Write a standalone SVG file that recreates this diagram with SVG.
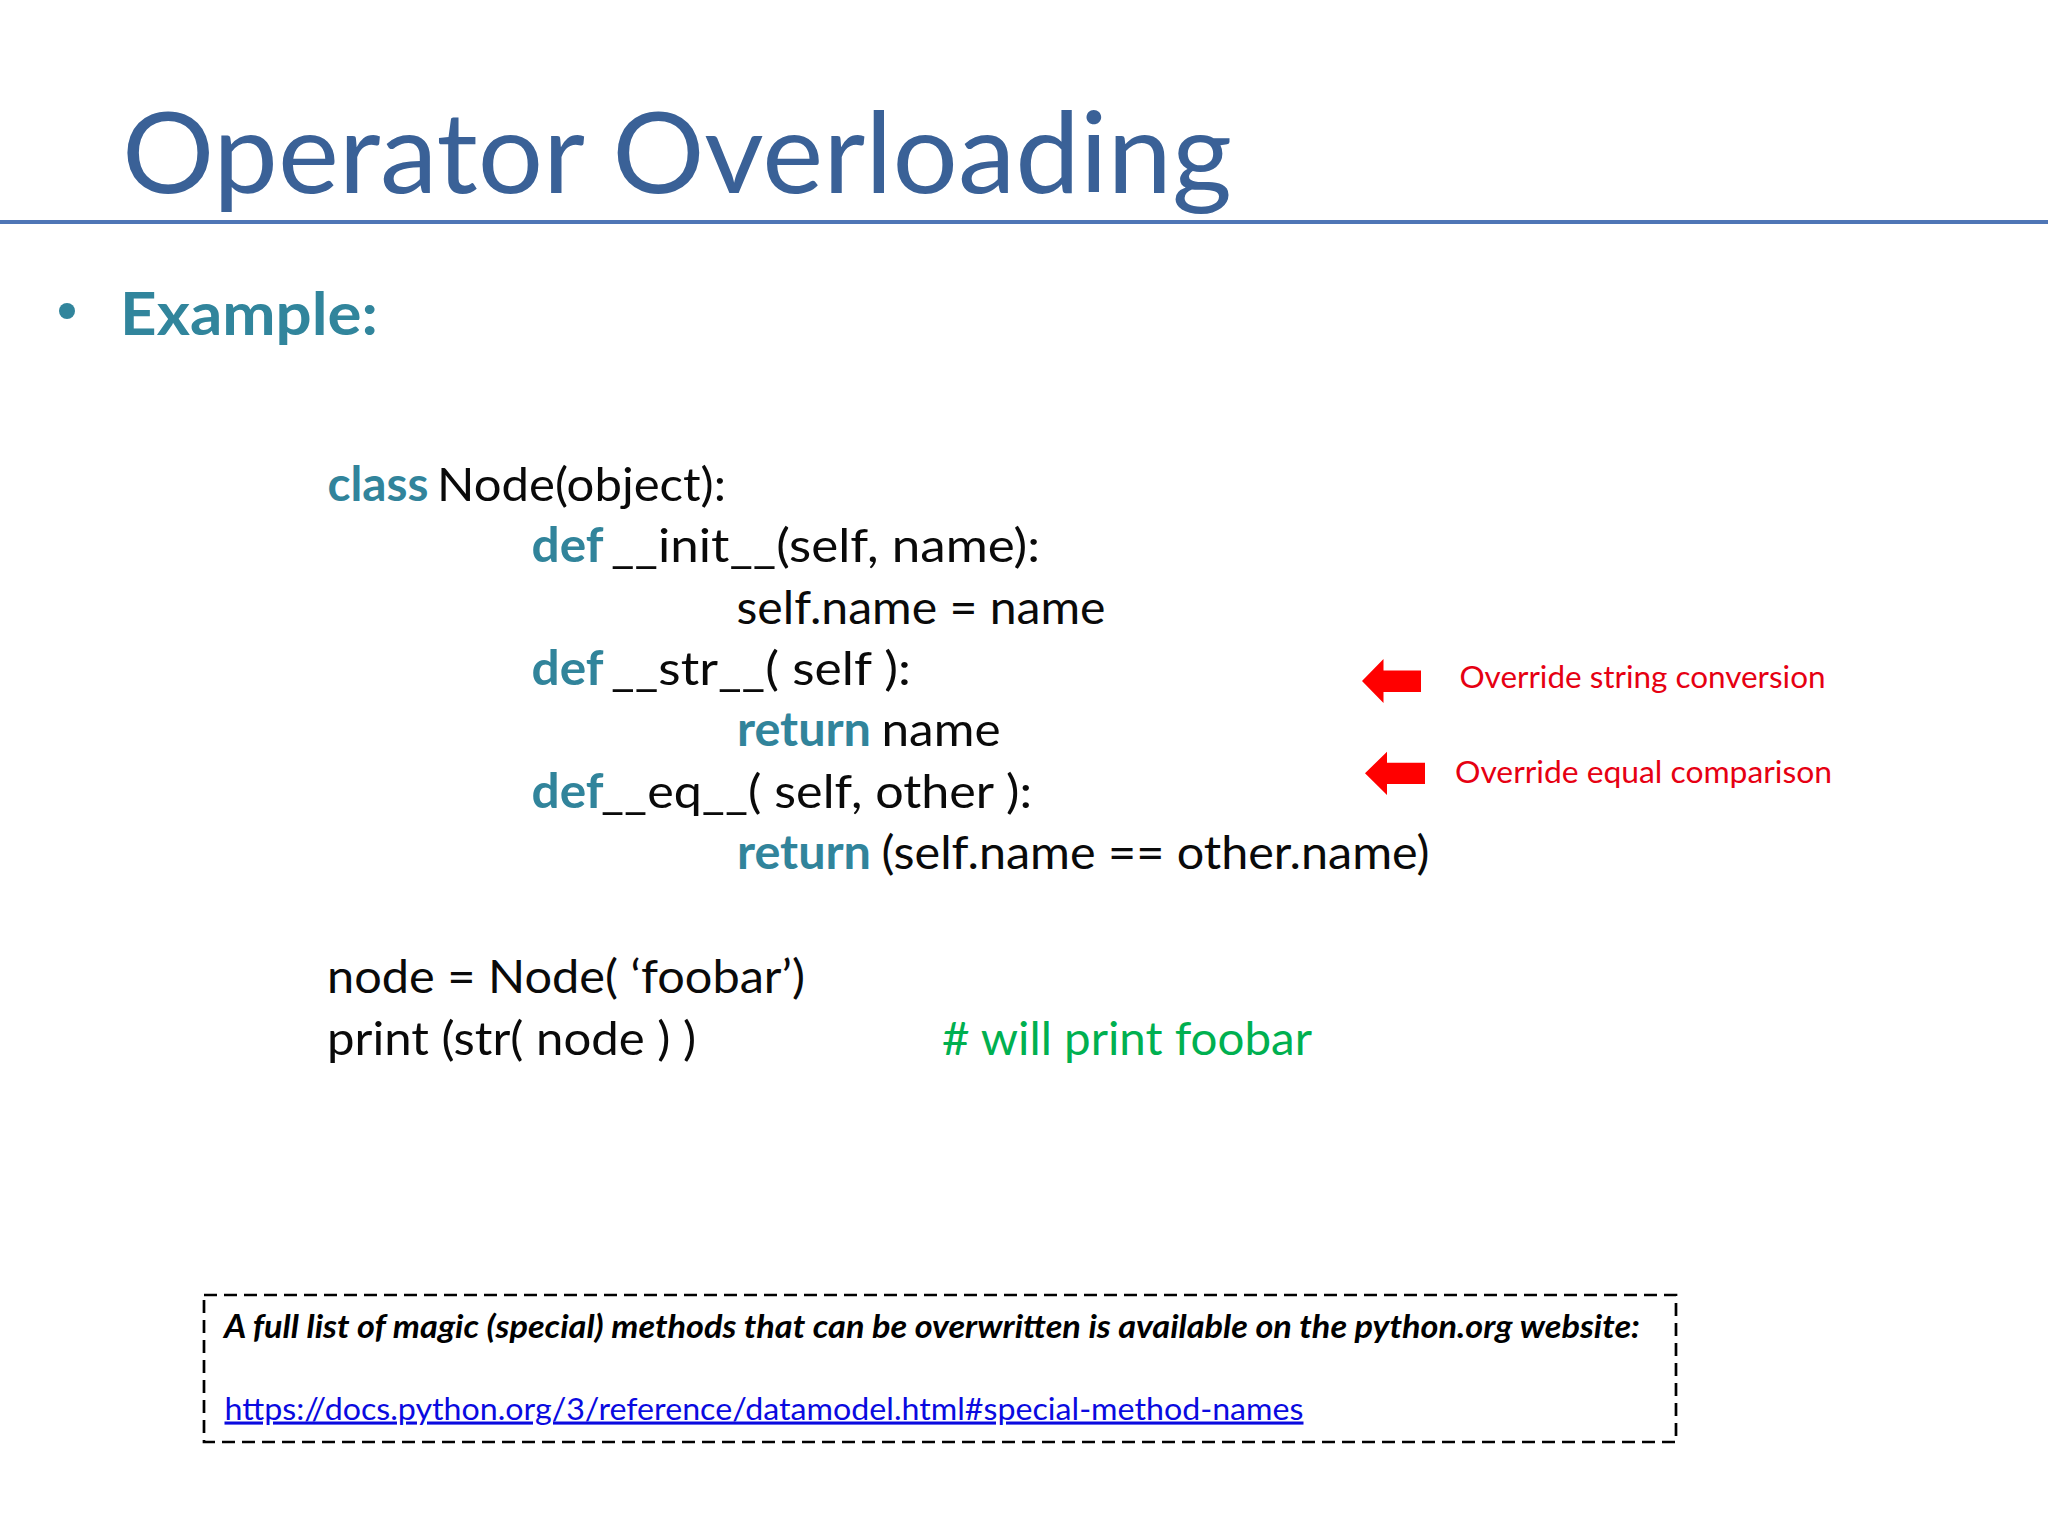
<svg xmlns="http://www.w3.org/2000/svg" width="2048" height="1536" viewBox="0 0 2048 1536">
<style>
text { font-family: Lato, "Open Sans", "Liberation Sans", sans-serif; }
.title { font-size: 112px; fill: #3A6197; }
.bullet { font-size: 60px; font-weight: bold; fill: #31859C; }
.code { font-size: 47px; fill: #0A0A0A; }
.kw { font-size: 47px; font-weight: bold; fill: #31849B; }
.cmt { font-size: 47px; fill: #00B050; }
.note { font-size: 30px; fill: #E60012; }
.arrow { fill: #FF0000; }
.info { font-size: 33px; font-weight: bold; font-style: italic; fill: #000000; }
.link { font-size: 31px; fill: #0A0AE0; }
</style>
<rect x="0" y="0" width="2048" height="1536" fill="#FFFFFF"/>

<g id="header">
  <text class="title" x="122" y="193" textLength="1110" lengthAdjust="spacingAndGlyphs">Operator Overloading</text>
  <line x1="0" y1="222" x2="2048" y2="222" stroke="#4F76B6" stroke-width="4"/>
</g>

<g id="bullet-example">
  <circle cx="67" cy="311" r="8" fill="#31859C"/>
  <text class="bullet" x="120" y="335" textLength="258" lengthAdjust="spacingAndGlyphs">Example:</text>
</g>

<g id="code">
  <g id="line-class">
    <text class="kw" x="327.5" y="501" textLength="101" lengthAdjust="spacingAndGlyphs">class</text>
    <text class="code" x="437" y="501" textLength="289" lengthAdjust="spacingAndGlyphs">Node(object):</text>
  </g>
  <g id="line-init">
    <text class="kw" x="531.5" y="562" textLength="72" lengthAdjust="spacingAndGlyphs">def</text>
    <text class="code" x="611" y="562" textLength="429" lengthAdjust="spacingAndGlyphs">__init__(self, name):</text>
  </g>
  <g id="line-assign">
    <text class="code" x="736.5" y="623.5" textLength="369" lengthAdjust="spacingAndGlyphs">self.name = name</text>
  </g>
  <g id="line-str">
    <text class="kw" x="531.5" y="685" textLength="72" lengthAdjust="spacingAndGlyphs">def</text>
    <text class="code" x="611" y="685" textLength="300" lengthAdjust="spacingAndGlyphs">__str__( self ):</text>
  </g>
  <g id="line-return-name">
    <text class="kw" x="737" y="746" textLength="134" lengthAdjust="spacingAndGlyphs">return</text>
    <text class="code" x="881.5" y="746" textLength="119" lengthAdjust="spacingAndGlyphs">name</text>
  </g>
  <g id="line-eq">
    <text class="kw" x="531.5" y="807.5" textLength="72" lengthAdjust="spacingAndGlyphs">def</text>
    <text class="code" x="601" y="807.5" textLength="431" lengthAdjust="spacingAndGlyphs">__eq__( self, other ):</text>
  </g>
  <g id="line-return-eq">
    <text class="kw" x="737" y="869" textLength="134" lengthAdjust="spacingAndGlyphs">return</text>
    <text class="code" x="881.5" y="869" textLength="548" lengthAdjust="spacingAndGlyphs">(self.name == other.name)</text>
  </g>
  <g id="line-node">
    <text class="code" x="327" y="993" textLength="478" lengthAdjust="spacingAndGlyphs">node = Node( ‘foobar’)</text>
  </g>
  <g id="line-print">
    <text class="code" x="327" y="1054.5" textLength="369" lengthAdjust="spacingAndGlyphs">print (str( node ) )</text>
    <text class="cmt" x="942" y="1054.5" textLength="370" lengthAdjust="spacingAndGlyphs"># will print foobar</text>
  </g>
</g>

<g id="connectors">
  <polygon class="arrow" points="1362,681 1383.5,659 1383.5,670.5 1421,670.5 1421,692 1383.5,692 1383.5,703"/>
  <polygon class="arrow" points="1365,773.3 1387,751.7 1387,762.7 1425,762.7 1425,784 1387,784 1387,795"/>
</g>

<g id="note-str">
  <text class="note" x="1459.5" y="687.5" textLength="366" lengthAdjust="spacingAndGlyphs">Override string conversion</text>
</g>
<g id="note-eq">
  <text class="note" x="1455" y="783" textLength="377" lengthAdjust="spacingAndGlyphs">Override equal comparison</text>
</g>

<g id="info-box">
  <rect x="204" y="1295" width="1472" height="147" fill="none" stroke="#000000" stroke-width="2.7" stroke-dasharray="13 7"/>
  <text class="info" x="224" y="1338" textLength="1416" lengthAdjust="spacingAndGlyphs">A full list of magic (special) methods that can be overwritten is available on the python.org website:</text>
  <text class="link" x="224.5" y="1419.5" textLength="1079" lengthAdjust="spacingAndGlyphs" text-decoration="underline">https://docs.python.org/3/reference/datamodel.html#special-method-names</text>
</g>
</svg>
